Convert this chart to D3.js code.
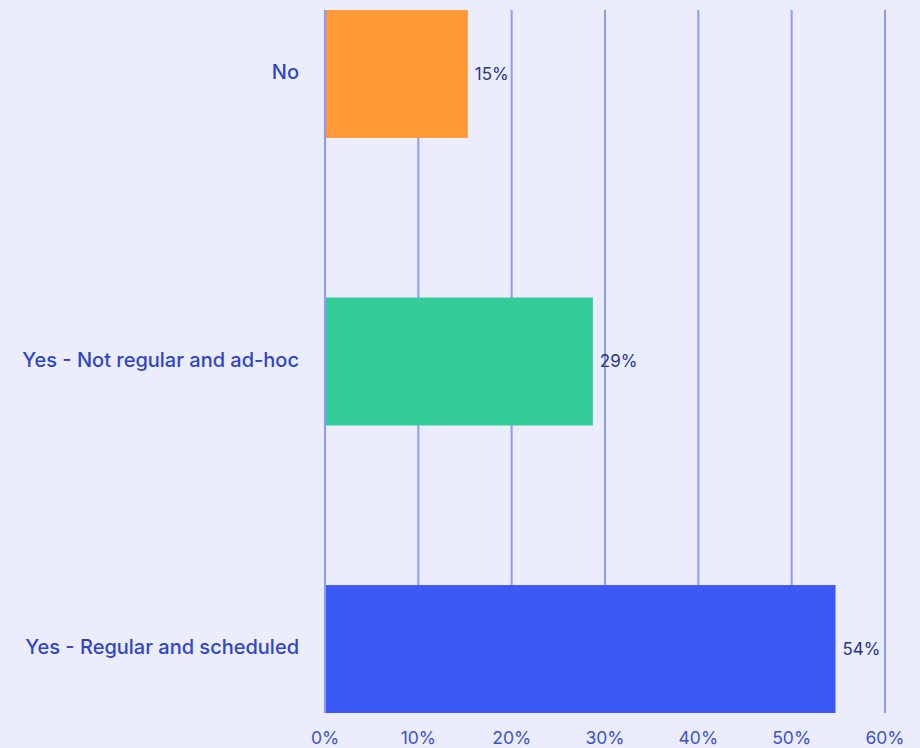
<!DOCTYPE html>
<html>
<head>
<meta charset="utf-8">
<script src="https://cdn.jsdelivr.net/npm/d3@7"></script>
<style>
  html, body { margin: 0; padding: 0; background: #ebedfd; }
  svg { display: block; }
</style>
</head>
<body>
<script>
const categories = ["No", "Yes - Not regular and ad-hoc", "Yes - Regular and scheduled"];
const values = [15.3, 28.7, 54.7];
const valueLabels = ["15%", "29%", "54%"];
const barColors = ["#ff9a36", "#33cc96", "#3b5af5"];
const ticks = [0, 10, 20, 30, 40, 50, 60];

const width = 920;
const height = 748;
const margin = { top: 10, right: 35, bottom: 35, left: 325 };

const svg = d3.select("body").append("svg")
  .attr("width", width)
  .attr("height", height)
  .style("background", "#ebedfd");

const x = d3.scaleLinear()
  .domain([0, 60])
  .range([margin.left, width - margin.right]);

const y = d3.scaleBand()
  .domain(categories)
  .range([margin.top, height - margin.bottom])
  .paddingInner(0.555)
  .paddingOuter(0);

// vertical grid
svg.append("g")
  .selectAll("line")
  .data(ticks)
  .enter()
  .append("line")
  .attr("x1", d => x(d))
  .attr("x2", d => x(d))
  .attr("y1", margin.top)
  .attr("y2", height - margin.bottom)
  .attr("stroke", "#8a9bff")
  .attr("stroke-width", 2);

// bars
svg.append("g")
  .selectAll("rect")
  .data(values)
  .enter()
  .append("rect")
  .attr("x", x(0) + 1)
  .attr("y", (d, i) => y(categories[i]))
  .attr("width", d => x(d) - x(0) - 1)
  .attr("height", y.bandwidth())
  .attr("fill", (d, i) => barColors[i]);

// value labels
svg.append("g")
  .selectAll("text")
  .data(values)
  .enter()
  .append("text")
  .attr("x", d => x(d) + 7)
  .attr("y", (d, i) => y(categories[i]) + y.bandwidth() / 2)
  .attr("dy", "0.35em")
  .attr("font-family", "Inter, Lato, sans-serif")
  .attr("font-size", "17px")
  .attr("fill", "#26338a")
  .text((d, i) => valueLabels[i]);

// category labels
svg.append("g")
  .selectAll("text")
  .data(categories)
  .enter()
  .append("text")
  .attr("x", margin.left - 26)
  .attr("y", d => y(d) + y.bandwidth() / 2 - 2)
  .attr("dy", "0.35em")
  .attr("text-anchor", "end")
  .attr("font-family", "Inter, Lato, sans-serif")
  .attr("font-weight", 500)
  .attr("font-size", "20px")
  .attr("fill", "#2f45c8")
  .text(d => d);

// x tick labels
svg.append("g")
  .selectAll("text")
  .data(ticks)
  .enter()
  .append("text")
  .attr("x", d => x(d))
  .attr("y", 738)
  .attr("dy", "0.35em")
  .attr("text-anchor", "middle")
  .attr("font-family", "Inter, Lato, sans-serif")
  .attr("font-size", "17.5px")
  .attr("fill", "#3a52d6")
  .text(d => d + "%");
</script>
</body>
</html>
